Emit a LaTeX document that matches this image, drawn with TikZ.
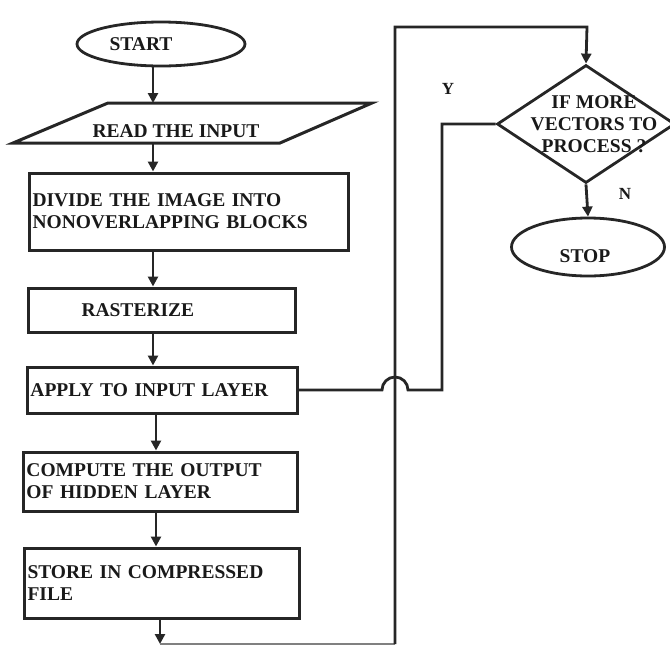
\documentclass[tikz,border=0pt]{standalone}
\usepackage{fontspec}
\setmainfont{Liberation Serif}
\usetikzlibrary{arrows.meta,shapes.geometric}
\begin{document}
\begin{tikzpicture}[x=1pt,y=-1pt,
  every node/.style={font=\bfseries\fontsize{19.5}{22}\selectfont, text=black!90},
  line/.style={draw=black!85, line width=2.8pt},
  arrow/.style={line, -{Triangle[length=10pt,width=10pt]}},
  procbox/.style={draw=black!85, line width=3pt, rectangle, inner xsep=3.5pt, inner ysep=2pt, align=left},
  term/.style={draw=black!85, line width=2.8pt, ellipse, inner sep=0pt},
  lbl/.style={inner sep=0pt}]
\useasboundingbox (0,0) rectangle (670,646);

% terminals
\node[term, minimum width=168pt, minimum height=44pt] (start) at (161,44) {};
\node[lbl] (starttxt) at (141,44) {START};

% input parallelogram
\coordinate (pA) at (13,143);
\coordinate (pB) at (108,103);
\coordinate (pC) at (372,103);
\coordinate (pD) at (280,143);
\draw[line, line width=3pt, line join=miter] (pA) -- (pB) -- (pC) -- (pD) -- cycle;
\node[lbl] (read) at (176,131) {READ THE INPUT};
\coordinate (readtop) at (153,103);
\coordinate (readbot) at (153,143);

% process boxes
\node[procbox, minimum width=319pt, minimum height=77pt, text width=312pt] (divide) at (188.5,211.5) {DIVIDE THE IMAGE INTO\\NONOVERLAPPING BLOCKS};
\node[procbox, minimum width=267pt, minimum height=44pt, text width=260pt] (raster) at (161.5,310) {\hspace*{50pt}RASTERIZE};
\node[procbox, minimum width=270pt, minimum height=46pt, text width=263pt] (apply) at (162,390) {APPLY TO INPUT LAYER};
\node[procbox, minimum width=274pt, minimum height=59pt, text width=267pt] (compute) at (160,481.5) {COMPUTE THE OUTPUT\\OF HIDDEN LAYER};
\node[procbox, minimum width=275pt, minimum height=70pt, text width=268pt] (store) at (161.5,583) {STORE IN COMPRESSED\\FILE};

% decision
\node[draw=black!85, line width=2.8pt, diamond, minimum width=178pt, minimum height=118pt, inner sep=0pt] (dec) at (586,124) {};
\node[lbl, align=center] (dectxt) at (594,124) {IF MORE\\VECTORS TO\\PROCESS ?};
\node[term, minimum width=153pt, minimum height=58pt] (stop) at (588,247) {};
\node[lbl] (stoptxt) at (585,256) {STOP};

% labels
\node[lbl, font=\bfseries\fontsize{17}{20}\selectfont] (ylbl) at (448,89) {Y};
\node[lbl, font=\bfseries\fontsize{17}{20}\selectfont] (nlbl) at (625,194) {N};

% main flow arrows
\coordinate (ax) at (153,0);
\coordinate (bx) at (156,0);
\coordinate (cx) at (160,0);
\draw[arrow] (start.south -| ax) -- (readtop);
\draw[arrow] (readbot) -- (divide.north -| ax);
\draw[arrow] (divide.south -| ax) -- (raster.north -| ax);
\draw[arrow] (raster.south -| ax) -- (apply.north -| ax);
\draw[arrow] (apply.south -| bx) -- (compute.north -| bx);
\draw[arrow] (compute.south -| bx) -- (store.north -| bx);

% loop back to decision
\coordinate (bot1) at (160,644);
\coordinate (bot2) at (395,644);
\coordinate (top1) at (395,27);
\coordinate (top2) at (587,27);
\draw[arrow] (store.south -| cx) -- (bot1);
\draw[line, line width=1.2pt, draw=black!50] (bot1) -- (bot2);
\draw[arrow] (bot2) -- (top1) -- (top2) -- (dec.north);

% decision outputs
\draw[arrow] (dec.south) -- (stop.north);
\coordinate (yc1) at (442,124);
\coordinate (yc2) at (442,390);
\coordinate (hopR) at (408,390);
\draw[line] (dec.west) -- (yc1) -- (yc2) -- (hopR) arc[start angle=0, end angle=180, radius=13pt] -- (apply.east);
\end{tikzpicture}
\end{document}
